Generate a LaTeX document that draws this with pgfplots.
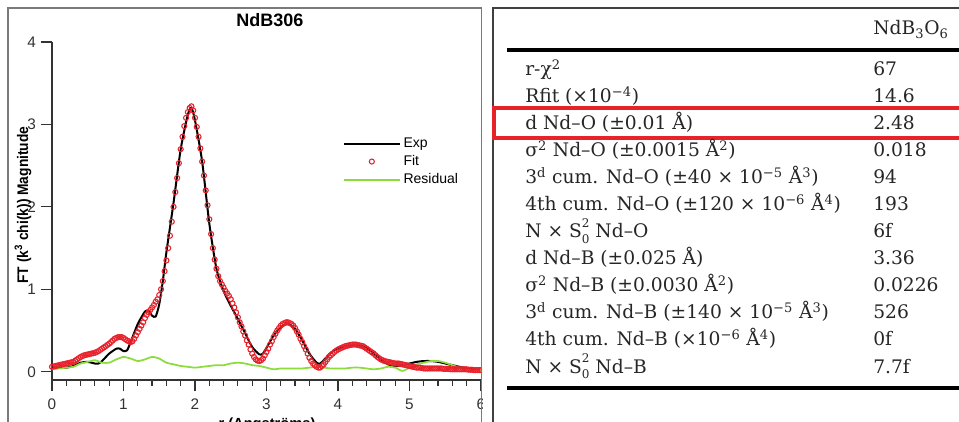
\documentclass[border=0pt]{standalone}
\usepackage{fontspec}
\setmainfont{Liberation Sans}
\newfontfamily\tabfont{DejaVu Serif}
\usepackage{pgfplots}
\pgfplotsset{compat=1.18}
\definecolor{fitred}{HTML}{E8222C}
\definecolor{resgreen}{HTML}{8CDC3C}
\definecolor{framegray}{HTML}{7A7A7A}
\definecolor{boxred}{HTML}{E52329}
\newcommand{\trow}[3]{\node[anchor=base west, inner sep=0pt] at (525,#1) {#2};\node[anchor=base west, inner sep=0pt] at (873,#1) {#3};}
\newcommand{\Sstack}{S\rlap{\raisebox{0.58em}{\fontsize{9}{9}\selectfont 2}}\raisebox{-0.3em}{\fontsize{9}{9}\selectfont 0}}
\begin{document}
\begin{tikzpicture}[x=0.75pt,y=0.75pt]
\useasboundingbox (0,0) rectangle (959,421);
\fill[white] (0,0) rectangle (959,421);
\begin{scope}
\clip (0,-10) rectangle (482,430);
\begin{axis}[at={(39pt,30.75pt)}, anchor=south west, scale only axis,
  width=321.75pt, height=253.5pt,
  xmin=0, xmax=6, ymin=-0.1, ymax=4,
  axis lines=left, axis line style={-, line width=1.2pt, color=black!80},
  xtick={0,1,2,3,4,5,6}, ytick={0,1,2,3,4},
  minor x tick num=4,
  tick align=outside, major tick length=8.5pt, minor tick length=4.5pt,
  tick style={line width=0.9pt, color=black!80},
  /pgf/number format/assume math mode=true,
  ticklabel style={font=\fontsize{11.5}{13}\selectfont, color=black!80},
  xticklabel style={yshift=-2pt},
  legend cell align=left,
  legend style={draw=none, fill=none, at={(0.668,0.733)}, anchor=north west,
    font=\fontsize{10.5}{12}\selectfont, row sep=0.5pt},
  legend image code/.code={\draw[mark repeat=2,mark phase=2,#1] plot coordinates {(0pt,0pt) (21pt,0pt) (42pt,0pt)};},
]
\addplot[black, line width=1.5pt, smooth, tension=0.4] coordinates {
(0.00,0.05)(0.10,0.05)(0.20,0.05)(0.30,0.07)(0.40,0.11)(0.50,0.12)(0.60,0.10)(0.65,0.10)
(0.70,0.13)(0.80,0.22)(0.90,0.28)(0.95,0.28)(1.00,0.25)(1.05,0.26)(1.10,0.36)(1.20,0.58)
(1.30,0.73)(1.35,0.74)(1.40,0.68)(1.45,0.67)(1.50,0.82)(1.55,1.10)(1.60,1.45)(1.70,2.05)
(1.80,2.70)(1.90,3.12)(1.95,3.20)(2.00,3.05)(2.10,2.55)(2.20,1.80)(2.30,1.25)(2.40,0.98)
(2.50,0.80)(2.60,0.64)(2.70,0.47)(2.80,0.30)(2.90,0.21)(2.95,0.22)(3.00,0.29)(3.10,0.44)
(3.20,0.54)(3.30,0.58)(3.40,0.52)(3.50,0.38)(3.60,0.22)(3.70,0.11)(3.75,0.10)(3.80,0.14)
(3.90,0.23)(4.00,0.28)(4.10,0.31)(4.20,0.32)(4.30,0.32)(4.40,0.29)(4.50,0.22)(4.60,0.15)
(4.70,0.09)(4.80,0.07)(4.90,0.08)(5.00,0.10)(5.10,0.12)(5.20,0.13)(5.30,0.13)(5.40,0.12)
(5.50,0.10)(5.60,0.08)(5.70,0.06)(5.80,0.04)(5.90,0.03)(6.00,0.02)};
\addlegendentry{Exp}
\addplot[only marks, mark=o, mark size=1.9pt, fitred, mark options={line width=0.8pt}] coordinates {
(0.000,0.060)(0.025,0.065)(0.050,0.070)(0.075,0.075)(0.100,0.080)(0.125,0.085)(0.150,0.090)(0.175,0.095)
(0.200,0.100)(0.225,0.105)(0.250,0.110)(0.275,0.115)(0.300,0.120)(0.325,0.135)(0.350,0.150)(0.375,0.165)
(0.400,0.180)(0.425,0.190)(0.450,0.200)(0.475,0.205)(0.500,0.210)(0.525,0.215)(0.550,0.220)(0.575,0.225)
(0.600,0.230)(0.625,0.240)(0.650,0.250)(0.675,0.265)(0.700,0.280)(0.725,0.295)(0.750,0.310)(0.775,0.325)
(0.800,0.340)(0.825,0.360)(0.850,0.380)(0.875,0.400)(0.900,0.410)(0.925,0.420)(0.950,0.420)(0.975,0.420)
(1.000,0.410)(1.025,0.395)(1.050,0.380)(1.075,0.370)(1.100,0.360)(1.125,0.370)(1.150,0.400)(1.175,0.440)
(1.200,0.480)(1.225,0.520)(1.250,0.560)(1.275,0.600)(1.300,0.650)(1.325,0.690)(1.350,0.720)(1.375,0.750)
(1.400,0.780)(1.425,0.810)(1.450,0.850)(1.475,0.880)(1.500,0.930)(1.525,1.000)(1.550,1.100)(1.575,1.220)
(1.600,1.350)(1.625,1.500)(1.650,1.650)(1.675,1.820)(1.700,2.000)(1.725,2.180)(1.750,2.350)(1.775,2.530)
(1.800,2.700)(1.825,2.850)(1.850,2.980)(1.875,3.080)(1.900,3.150)(1.925,3.200)(1.950,3.220)(1.975,3.170)
(2.000,3.080)(2.025,2.970)(2.050,2.850)(2.075,2.710)(2.100,2.550)(2.125,2.380)(2.150,2.200)(2.175,2.020)
(2.200,1.850)(2.225,1.670)(2.250,1.500)(2.275,1.360)(2.300,1.250)(2.325,1.160)(2.350,1.100)(2.375,1.060)
(2.400,1.020)(2.425,0.980)(2.450,0.950)(2.475,0.920)(2.500,0.880)(2.525,0.830)(2.550,0.780)(2.575,0.720)
(2.600,0.660)(2.625,0.600)(2.650,0.550)(2.675,0.490)(2.700,0.440)(2.725,0.380)(2.750,0.330)(2.775,0.270)
(2.800,0.220)(2.825,0.180)(2.850,0.150)(2.875,0.135)(2.900,0.130)(2.925,0.140)(2.950,0.160)(2.975,0.200)
(3.000,0.240)(3.025,0.280)(3.050,0.330)(3.075,0.370)(3.100,0.420)(3.125,0.460)(3.150,0.500)(3.175,0.530)
(3.200,0.560)(3.225,0.580)(3.250,0.590)(3.275,0.600)(3.300,0.600)(3.325,0.590)(3.350,0.580)(3.375,0.560)
(3.400,0.530)(3.425,0.490)(3.450,0.450)(3.475,0.400)(3.500,0.360)(3.525,0.310)(3.550,0.270)(3.575,0.220)
(3.600,0.170)(3.625,0.130)(3.650,0.100)(3.675,0.080)(3.700,0.060)(3.725,0.050)(3.750,0.050)(3.775,0.070)
(3.800,0.090)(3.825,0.120)(3.850,0.150)(3.875,0.180)(3.900,0.200)(3.925,0.220)(3.950,0.240)(3.975,0.255)
(4.000,0.270)(4.025,0.280)(4.050,0.290)(4.075,0.300)(4.100,0.310)(4.125,0.315)(4.150,0.320)(4.175,0.325)
(4.200,0.330)(4.225,0.330)(4.250,0.330)(4.275,0.325)(4.300,0.320)(4.325,0.315)(4.350,0.310)(4.375,0.295)
(4.400,0.280)(4.425,0.265)(4.450,0.250)(4.475,0.235)(4.500,0.220)(4.525,0.200)(4.550,0.180)(4.575,0.165)
(4.600,0.150)(4.625,0.140)(4.650,0.130)(4.675,0.125)(4.700,0.120)(4.725,0.115)(4.750,0.110)(4.775,0.105)
(4.800,0.100)(4.825,0.100)(4.850,0.100)(4.875,0.095)(4.900,0.090)(4.925,0.085)(4.950,0.080)(4.975,0.075)
(5.000,0.070)(5.025,0.065)(5.050,0.060)(5.075,0.055)(5.100,0.050)(5.125,0.050)(5.150,0.050)(5.175,0.045)
(5.200,0.040)(5.225,0.040)(5.250,0.040)(5.275,0.040)(5.300,0.040)(5.325,0.040)(5.350,0.040)(5.375,0.040)
(5.400,0.040)(5.425,0.040)(5.450,0.040)(5.475,0.035)(5.500,0.035)(5.525,0.035)(5.550,0.035)(5.575,0.030)
(5.600,0.030)(5.625,0.030)(5.650,0.030)(5.675,0.030)(5.700,0.030)(5.725,0.030)(5.750,0.030)(5.775,0.030)
(5.800,0.030)(5.825,0.025)(5.850,0.025)(5.875,0.025)(5.900,0.020)(5.925,0.020)(5.950,0.020)(5.975,0.020)
(6.000,0.020)};
\addlegendentry{Fit}
\addplot[resgreen, line width=1.3pt, smooth, tension=0.4] coordinates {
(0.00,0.03)(0.10,0.04)(0.20,0.05)(0.30,0.06)(0.40,0.10)(0.50,0.12)(0.60,0.14)(0.70,0.11)
(0.80,0.11)(0.90,0.15)(1.00,0.18)(1.10,0.16)(1.20,0.13)(1.30,0.15)(1.40,0.18)(1.50,0.16)
(1.60,0.11)(1.70,0.09)(1.80,0.07)(1.90,0.06)(2.00,0.05)(2.10,0.06)(2.20,0.07)(2.30,0.08)
(2.40,0.08)(2.50,0.10)(2.60,0.11)(2.70,0.10)(2.80,0.08)(2.90,0.07)(3.00,0.05)(3.10,0.03)
(3.20,0.04)(3.30,0.04)(3.40,0.04)(3.50,0.04)(3.60,0.05)(3.70,0.06)(3.80,0.05)(3.90,0.04)
(4.00,0.04)(4.10,0.04)(4.20,0.05)(4.30,0.05)(4.40,0.04)(4.50,0.03)(4.60,0.04)(4.70,0.06)
(4.80,0.05)(4.90,0.01)(5.00,0.05)(5.10,0.09)(5.20,0.11)(5.30,0.13)(5.40,0.13)(5.50,0.11)
(5.60,0.08)(5.70,0.05)(5.80,0.03)(5.90,0.02)(6.00,0.02)};
\addlegendentry{Residual}
\end{axis}
\node[font=\bfseries\fontsize{13.5}{15}\selectfont] at (270,401) {NdB306};
\node[rotate=90, font=\bfseries\fontsize{11.5}{13}\selectfont] at (23,216) {\scalebox{0.9}[1]{FT (k\textsuperscript{3} chi(k)) Magnitude}};
\node[anchor=north, font=\bfseries\fontsize{11}{13}\selectfont] at (267,7.5) {r (Angströms)};
\draw[framegray, line width=1.1pt] (8,-5) -- (8,413) -- (481.5,413) -- (481.5,-5);
\end{scope}
% right panel
\draw[black!75, line width=0.9pt] (493,-5) -- (493,413) -- (965,413);
\draw[black, line width=2.4pt] (507,371) -- (965,371);
\draw[black, line width=2.4pt] (507,33) -- (965,33);
\draw[boxred, line width=2.4pt] (494,313) rectangle (975,283);
\begin{scope}[font=\tabfont\fontsize{14}{16}\selectfont, color=black!85]
\node[anchor=base west, inner sep=0pt] at (873,386) {NdB\textsubscript{3}O\textsubscript{6}};
\trow{345}{r-χ\textsuperscript{2}}{67}
\trow{318}{Rfit (×10\textsuperscript{−4})}{14.6}
\trow{291}{d Nd–O (±0.01 Å)}{2.48}
\trow{264}{σ\textsuperscript{2} Nd–O (±0.0015 Å\textsuperscript{2})}{0.018}
\trow{237}{3\textsuperscript{d} cum. Nd–O (±40 × 10\textsuperscript{−5} Å\textsuperscript{3})}{94}
\trow{210}{4th cum. Nd–O (±120 × 10\textsuperscript{−6} Å\textsuperscript{4})}{193}
\trow{183}{N × \Sstack{} Nd–O}{6f}
\trow{156}{d Nd–B (±0.025 Å)}{3.36}
\trow{129}{σ\textsuperscript{2} Nd–B (±0.0030 Å\textsuperscript{2})}{0.0226}
\trow{102}{3\textsuperscript{d} cum. Nd–B (±140 × 10\textsuperscript{−5} Å\textsuperscript{3})}{526}
\trow{75}{4th cum. Nd–B (×10\textsuperscript{−6} Å\textsuperscript{4})}{0f}
\trow{48}{N × \Sstack{} Nd–B}{7.7f}
\end{scope}
\end{tikzpicture}
\end{document}
